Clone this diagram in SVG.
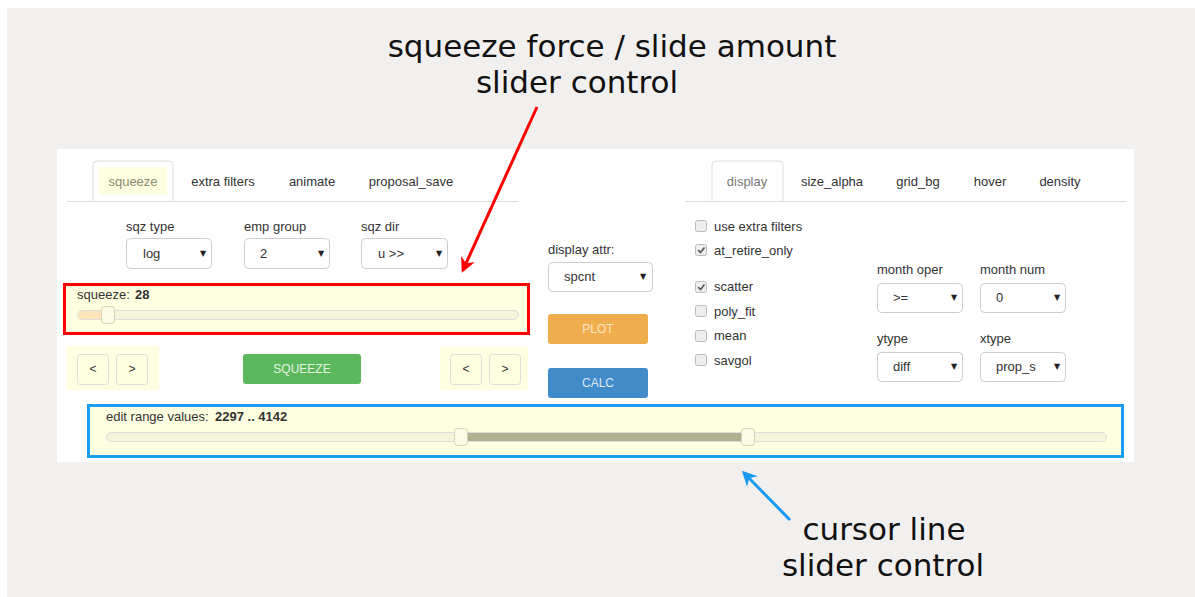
<svg xmlns="http://www.w3.org/2000/svg" width="1195" height="597" viewBox="0 0 1195 597">
  <style>
    .ui { font-family: "Liberation Sans", Arial, sans-serif; font-size: 13px; fill: #333; }
    .tab { font-family: "Liberation Sans", Arial, sans-serif; font-size: 13px; fill: #333; text-anchor: middle; }
    .bold { font-weight: bold; }
    .note { font-family: "DejaVu Sans", sans-serif; font-size: 31px; fill: #111; text-anchor: middle; }
    .sel { fill: #fff; stroke: #ccc; stroke-width: 1; }
    .caret { font-family: "DejaVu Sans", sans-serif; font-size: 8px; fill: #222; }
    .cb { fill: #eee; stroke: #bbb; stroke-width: 1; }
    .btnsm { fill: #fefee0; stroke: #ddd; stroke-width: 1; }
    .track { fill: #f5f5dc; stroke: #ddd; stroke-width: 1; }
    .handle { fill: #fbfbe4; stroke: #d4d4bb; stroke-width: 1; }
    .pad { fill: #fefee0; }
    .btntxt { font-family: "Liberation Sans", Arial, sans-serif; font-size: 12px; text-anchor: middle; }
  </style>
  <defs>
    <marker id="redHead" viewBox="0 0 10 10" refX="8" refY="5" markerWidth="5" markerHeight="5" orient="auto" markerUnits="strokeWidth">
      <path d="M0,0 L10,5 L0,10 L3,5 z" fill="#f00"/>
    </marker>
    <marker id="blueHead" viewBox="0 0 10 10" refX="8" refY="5" markerWidth="5" markerHeight="5" orient="auto" markerUnits="strokeWidth">
      <path d="M0,0 L10,5 L0,10 L3,5 z" fill="#1a9bf0"/>
    </marker>
  </defs>

  <!-- page background -->
  <rect x="0" y="0" width="1195" height="597" fill="#fff"/>
  <rect x="7" y="8" width="1188" height="589" fill="#f1f0ef"/>
  <rect x="57" y="149" width="1077" height="313" fill="#fff"/>

  <!-- left tab bar -->
  <g id="left-tabs">
    <path d="M93,201 V165 a4,4 0 0 1 4,-4 H169 a4,4 0 0 1 4,4 V201" fill="#fff" stroke="#ddd"/>
    <rect x="99" y="167" width="68" height="28" fill="#fefee0"/>
    <line x1="67" y1="201.5" x2="518" y2="201.5" stroke="#ddd"/>
    <text class="tab" x="133" y="186" style="fill:#8a8a70">squeeze</text>
    <text class="tab" x="223" y="186">extra filters</text>
    <text class="tab" x="312" y="186">animate</text>
    <text class="tab" x="411" y="186">proposal_save</text>
  </g>

  <!-- squeeze selectors -->
  <g id="sqz-type">
    <text class="ui" x="126" y="231">sqz type</text>
    <rect class="sel" x="126.5" y="238.5" width="85" height="30" rx="4"/>
    <text class="ui" x="143" y="258">log</text>
    <text class="caret" x="200" y="256">▼</text>
  </g>
  <g id="emp-group">
    <text class="ui" x="244" y="231">emp group</text>
    <rect class="sel" x="244.5" y="238.5" width="85" height="30" rx="4"/>
    <text class="ui" x="260" y="258">2</text>
    <text class="caret" x="318" y="256">▼</text>
  </g>
  <g id="sqz-dir">
    <text class="ui" x="361" y="231">sqz dir</text>
    <rect class="sel" x="361.5" y="238.5" width="86" height="30" rx="4"/>
    <text class="ui" x="378" y="258">u &gt;&gt;</text>
    <text class="caret" x="436" y="256">▼</text>
  </g>

  <!-- squeeze amount slider -->
  <g id="squeeze-slider">
    <rect x="64.5" y="284.5" width="464" height="49" fill="#fefee0" stroke="#f00" stroke-width="3"/>
    <text class="ui" x="77" y="299">squeeze:</text>
    <text class="ui bold" x="135" y="299">28</text>
    <rect class="track" x="77.5" y="310.5" width="441" height="9" rx="4.5"/>
    <rect x="78" y="311" width="30" height="8" rx="4" fill="#fde3b8"/>
    <rect class="handle" x="101.5" y="306.5" width="13" height="17" rx="3"/>
  </g>

  <!-- step buttons -->
  <g id="step-left">
    <rect class="pad" x="67" y="346" width="92" height="44"/>
    <rect class="btnsm" x="77.5" y="354.5" width="31" height="30" rx="3"/>
    <rect class="btnsm" x="116.5" y="354.5" width="31" height="30" rx="3"/>
    <text class="ui" x="93" y="373" text-anchor="middle" style="font-size:12px">&lt;</text>
    <text class="ui" x="132" y="373" text-anchor="middle" style="font-size:12px">&gt;</text>
  </g>
  <g id="squeeze-button">
    <rect x="243" y="354" width="118" height="30" rx="3" fill="#5cb85c"/>
    <text class="btntxt" x="302" y="373" fill="#e4f4e4">SQUEEZE</text>
  </g>
  <g id="step-right">
    <rect class="pad" x="440" y="347" width="88" height="43"/>
    <rect class="btnsm" x="450.5" y="354.5" width="31" height="30" rx="3"/>
    <rect class="btnsm" x="489.5" y="354.5" width="31" height="30" rx="3"/>
    <text class="ui" x="466" y="373" text-anchor="middle" style="font-size:12px">&lt;</text>
    <text class="ui" x="505" y="373" text-anchor="middle" style="font-size:12px">&gt;</text>
  </g>

  <!-- middle column -->
  <g id="display-attr">
    <text class="ui" x="548" y="254">display attr:</text>
    <rect class="sel" x="548.5" y="262.5" width="104" height="29" rx="4"/>
    <text class="ui" x="564" y="281">spcnt</text>
    <text class="caret" x="640" y="279">▼</text>
  </g>
  <g id="plot-button">
    <rect x="548" y="314" width="100" height="30" rx="3" fill="#f0ad4e"/>
    <text class="btntxt" x="598" y="333" fill="#fce6c6">PLOT</text>
  </g>
  <g id="calc-button">
    <rect x="548" y="368" width="100" height="30" rx="3" fill="#428bca"/>
    <text class="btntxt" x="598" y="387" fill="#dce9f6">CALC</text>
  </g>

  <!-- right tab bar -->
  <g id="right-tabs">
    <path d="M712,201 V165 a4,4 0 0 1 4,-4 H779 a4,4 0 0 1 4,4 V201" fill="#fff" stroke="#ddd"/>
    <line x1="685" y1="201.5" x2="1126" y2="201.5" stroke="#ddd"/>
    <text class="tab" x="747" y="186" style="fill:#777">display</text>
    <text class="tab" x="832" y="186">size_alpha</text>
    <text class="tab" x="918" y="186">grid_bg</text>
    <text class="tab" x="990" y="186">hover</text>
    <text class="tab" x="1060" y="186">density</text>
  </g>

  <!-- checkboxes -->
  <g id="checkboxes">
    <rect class="cb" x="695.5" y="220.5" width="11" height="11" rx="2"/>
    <text class="ui" x="714" y="231">use extra filters</text>
    <rect class="cb" x="695.5" y="244.5" width="11" height="11" rx="2"/>
    <path d="M698,250 l2.5,2.5 l4,-5" fill="none" stroke="#555" stroke-width="1.6"/>
    <text class="ui" x="714" y="255">at_retire_only</text>
    <rect class="cb" x="695.5" y="281.5" width="11" height="11" rx="2"/>
    <path d="M698,287 l2.5,2.5 l4,-5" fill="none" stroke="#555" stroke-width="1.6"/>
    <text class="ui" x="714" y="291">scatter</text>
    <rect class="cb" x="695.5" y="305.5" width="11" height="11" rx="2"/>
    <text class="ui" x="714" y="316">poly_fit</text>
    <rect class="cb" x="695.5" y="330.5" width="11" height="11" rx="2"/>
    <text class="ui" x="714" y="340">mean</text>
    <rect class="cb" x="695.5" y="354.5" width="11" height="11" rx="2"/>
    <text class="ui" x="714" y="365">savgol</text>
  </g>

  <!-- right selectors -->
  <g id="month-oper">
    <text class="ui" x="877" y="274">month oper</text>
    <rect class="sel" x="877.5" y="283.5" width="85" height="29" rx="4"/>
    <text class="ui" x="893" y="302">&gt;=</text>
    <text class="caret" x="951" y="300">▼</text>
  </g>
  <g id="month-num">
    <text class="ui" x="980" y="274">month num</text>
    <rect class="sel" x="980.5" y="283.5" width="85" height="29" rx="4"/>
    <text class="ui" x="996" y="302">0</text>
    <text class="caret" x="1054" y="300">▼</text>
  </g>
  <g id="ytype">
    <text class="ui" x="877" y="343">ytype</text>
    <rect class="sel" x="877.5" y="352.5" width="85" height="29" rx="4"/>
    <text class="ui" x="893" y="371">diff</text>
    <text class="caret" x="951" y="369">▼</text>
  </g>
  <g id="xtype">
    <text class="ui" x="980" y="343">xtype</text>
    <rect class="sel" x="980.5" y="352.5" width="85" height="29" rx="4"/>
    <text class="ui" x="996" y="371">prop_s</text>
    <text class="caret" x="1054" y="369">▼</text>
  </g>

  <!-- range slider -->
  <g id="range-slider">
    <rect x="88.5" y="405.5" width="1034" height="51" fill="#fefee0" stroke="#1a9ff0" stroke-width="3"/>
    <text class="ui" x="106" y="421">edit range values:</text>
    <text class="ui bold" x="215" y="421">2297 .. 4142</text>
    <rect class="track" x="106.5" y="432.5" width="1000" height="9" rx="4.5"/>
    <rect x="461" y="433" width="287" height="8" fill="#b0b08f"/>
    <rect class="handle" x="454.5" y="428.5" width="13" height="17" rx="3"/>
    <rect class="handle" x="741.5" y="428.5" width="13" height="17" rx="3"/>
  </g>

  <!-- annotations -->
  <g id="note-top">
    <text class="note" x="612" y="57">squeeze force / slide amount</text>
    <text class="note" x="577" y="93">slider control</text>
  </g>
  <g id="note-bottom">
    <text class="note" x="884" y="540">cursor line</text>
    <text class="note" x="883" y="576">slider control</text>
  </g>

  <g id="connectors">
    <line x1="537" y1="107" x2="463" y2="270" stroke="#f00" stroke-width="3" marker-end="url(#redHead)"/>
    <line x1="790" y1="520" x2="744" y2="473" stroke="#1a9bf0" stroke-width="3" marker-end="url(#blueHead)"/>
  </g>
</svg>
